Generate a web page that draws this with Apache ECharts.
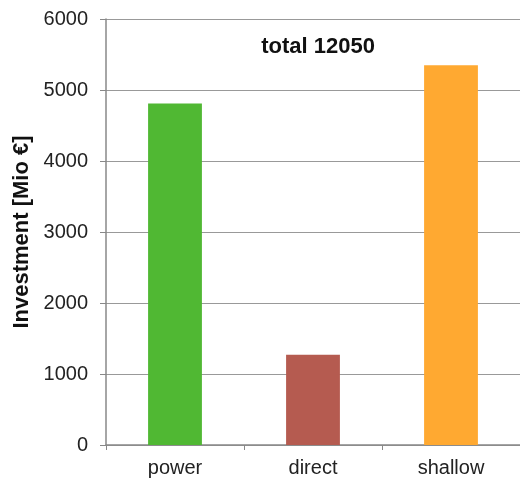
<!DOCTYPE html>
<html><head><meta charset="utf-8">
<script src="https://cdn.jsdelivr.net/npm/echarts@6/dist/echarts.min.js"></script>
<style>html,body{margin:0;padding:0;background:#fff}#c{width:520px;height:482px}</style>
</head><body><div id="c"></div>
<script>
var categories = ['power', 'direct', 'shallow'];
var values = [4810, 1270, 5350];
var colors = ['#50b833', '#b55b50', '#ffa931'];
var yTicks = [0, 1000, 2000, 3000, 4000, 5000, 6000];
var titleText = 'total 12050';
var yName = 'Investment [Mio \u20ac]';

var chart = echarts.init(document.getElementById('c'));
var font = 'Liberation Sans, Arial, sans-serif';
chart.setOption({
  animation: false,
  title: {text: titleText, left: 313, top: 31, textAlign: 'center',
    textStyle: {fontFamily: font, fontSize: 22, fontWeight: 'bold', color: '#111'}},
  grid: {left: 106, top: 19, right: 0, bottom: 37, containLabel: false},
  xAxis: {type: 'category', data: categories,
    axisLine: {lineStyle: {color: '#888', width: 1.5}},
    axisTick: {show: true, length: 5, lineStyle: {color: '#888'}},
    axisLabel: {fontFamily: font, fontSize: 20, color: '#222', margin: 13}},
  yAxis: {type: 'value', min: yTicks[0], max: yTicks[yTicks.length - 1], interval: 1000,
    name: yName, nameLocation: 'middle', nameGap: 70,
    nameTextStyle: {fontFamily: font, fontSize: 22, fontWeight: 'bold', color: '#111'},
    axisLine: {show: true, lineStyle: {color: '#888', width: 1.5}},
    axisTick: {show: true, inside: false, length: 6, lineStyle: {color: '#888'}},
    axisLabel: {fontFamily: font, fontSize: 20, color: '#222', margin: 18,
      formatter: function (v) { return String(v); }},
    splitLine: {lineStyle: {color: '#999', width: 1.2}}},
  series: [{type: 'bar', barWidth: '39%',
    data: values.map(function (v, i) { return {value: v, itemStyle: {color: colors[i]}}; })}]
});
</script></body></html>
